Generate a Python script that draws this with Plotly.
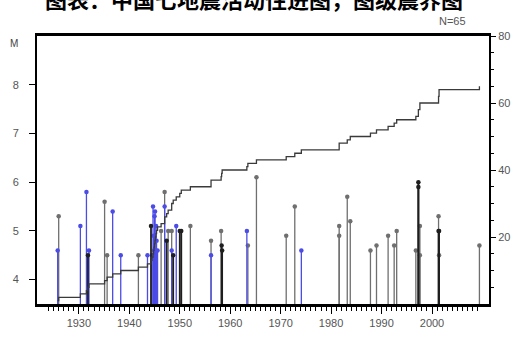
import plotly.graph_objects as go
import numpy as np

# ---- data ----
years = [1925.8, 1926.0, 1930.3, 1931.5, 1931.8, 1932.0, 1935.1, 1935.6, 1936.7, 1938.3, 1941.8, 1943.6,
         1944.3, 1944.5, 1944.7, 1944.8, 1944.9, 1945.0, 1945.1, 1945.2, 1945.3, 1945.4, 1945.6,
         1946.3, 1947.0, 1947.0, 1947.4, 1947.7, 1948.4, 1948.4, 1948.7, 1949.3, 1950.0, 1950.3, 1952.1,
         1956.2, 1956.2, 1958.2, 1958.3, 1958.4, 1963.3, 1963.5, 1965.2, 1971.1, 1972.8, 1974.1,
         1981.6, 1981.6, 1983.2, 1983.8, 1987.8, 1989.0, 1991.3, 1992.5, 1993.0, 1996.8, 1997.3, 1997.3, 1997.6, 1997.6,
         2001.3, 2001.3, 2001.4, 2001.4, 2009.4]
mags = [4.6, 5.3, 5.1, 5.8, 4.5, 4.6, 5.6, 4.5, 5.4, 4.5, 4.5, 4.5,
        5.1, 4.5, 5.5, 4.9, 4.6, 5.3, 5.4, 4.6, 5.1, 4.8, 4.6,
        5.0, 5.8, 5.5, 4.8, 5.0, 5.0, 4.6, 4.5, 5.1, 5.0, 5.0, 5.1,
        4.8, 4.5, 5.0, 4.7, 4.6, 5.0, 4.7, 6.1, 4.9, 5.5, 4.6,
        5.1, 4.9, 5.7, 5.2, 4.6, 4.7, 4.9, 4.7, 5.0, 4.6, 6.0, 5.9, 5.1, 4.5,
        5.3, 5.0, 5.0, 4.5, 4.7]
kinds = ['b', 'g', 'b', 'b', 'k', 'b', 'g', 'g', 'b', 'b', 'g', 'b',
         'k', 'b', 'b', 'b', 'b', 'b', 'b', 'b', 'b', 'b', 'b',
         'g', 'g', 'b', 'k', 'g', 'g', 'b', 'k', 'b', 'k', 'k', 'g',
         'g', 'b', 'g', 'k', 'k', 'b', 'g', 'g', 'g', 'g', 'b',
         'g', 'g', 'g', 'g', 'g', 'g', 'g', 'g', 'g', 'g', 'k', 'k', 'g', 'g',
         'g', 'k', 'k', 'g', 'g']

m_ticks = [4, 5, 6, 7, 8]
n_ticks = [20, 40, 60, 80]
x_ticks = [1930, 1940, 1950, 1960, 1970, 1980, 1990, 2000]
title_text = "图表：中国七地震活动性进图，图级震界图"
n_label = "N=65"

M_BASE = 3.5
styles = {'g': dict(color="#6f6f6f", width=1.3),
          'b': dict(color="#4b4be6", width=1.3),
          'k': dict(color="#1e1e1e", width=1.8)}

fig = go.Figure()

for k, st in styles.items():
    xs, ys, mx, my = [], [], [], []
    for yr, m, kk in zip(years, mags, kinds):
        if kk != k:
            continue
        xs += [yr, yr, None]
        ys += [M_BASE, m, None]
        mx.append(yr)
        my.append(m)
    fig.add_trace(go.Scatter(x=xs, y=ys, mode="lines", line=st, hoverinfo="skip", showlegend=False))
    fig.add_trace(go.Scatter(x=mx, y=my, mode="markers",
                             marker=dict(symbol="circle", size=4.5, color=st["color"]),
                             showlegend=False))

# cumulative count (right axis)
order = np.argsort(years, kind="stable")
yrs_sorted = np.array(years)[order]
cum = np.arange(1, len(years) + 1)
fig.add_trace(go.Scatter(x=yrs_sorted, y=cum, mode="lines", line_shape="hv",
                         line=dict(color="#3a3a3a", width=1.3), yaxis="y2", showlegend=False))

tickfont = dict(family="Liberation Sans, Arial, sans-serif", size=11, color="#555555")

fig.update_layout(
    width=522, height=341,
    margin=dict(l=37, r=29, t=36, b=28),
    paper_bgcolor="white", plot_bgcolor="white",
    xaxis=dict(range=[1921.7, 2011.3], tickvals=x_ticks, ticks="outside", ticklen=7,
               tickcolor="black", tickwidth=1.2, showgrid=False, zeroline=False,
               showline=True, linecolor="black", linewidth=2.5, mirror=True,
               tickfont=tickfont,
               minor=dict(tickvals=list(range(1924, 2010)), ticks="outside", ticklen=4,
                          tickcolor="black", tickwidth=1, showgrid=False)),
    yaxis=dict(range=[M_BASE, 9], tickvals=m_ticks, ticks="outside", ticklen=6,
               tickcolor="black", tickwidth=1.2, showgrid=False, zeroline=False,
               showline=True, linecolor="black", linewidth=2, mirror=True,
               tickfont=tickfont, ticklabelstandoff=8),
    yaxis2=dict(range=[0, 80], tickvals=n_ticks, overlaying="y", side="right",
                ticks="outside", ticklen=6, tickcolor="black", tickwidth=1.2,
                showgrid=False, zeroline=False, showline=False, tickfont=tickfont,
                minor=dict(tickvals=list(range(5, 80, 5)), ticks="outside", ticklen=4,
                           tickcolor="black", showgrid=False)),
    annotations=[
        dict(text=title_text, xref="paper", yref="paper", x=0.48, y=1.075,
             xanchor="center", yanchor="bottom", showarrow=False,
             font=dict(family="Noto Sans CJK SC", size=22, color="black", weight="bold")),
        dict(text="M", xref="paper", yref="paper", x=-0.05, y=1.0, xanchor="center",
             yanchor="top", showarrow=False, font=dict(family="Liberation Sans, Arial", size=10, color="#444")),
        dict(text=n_label, xref="paper", yref="paper", x=0.92, y=1.025, xanchor="center",
             yanchor="bottom", showarrow=False, font=dict(family="Liberation Sans, Arial", size=11, color="#555")),
    ],
)

fig.write_html("out.html")
